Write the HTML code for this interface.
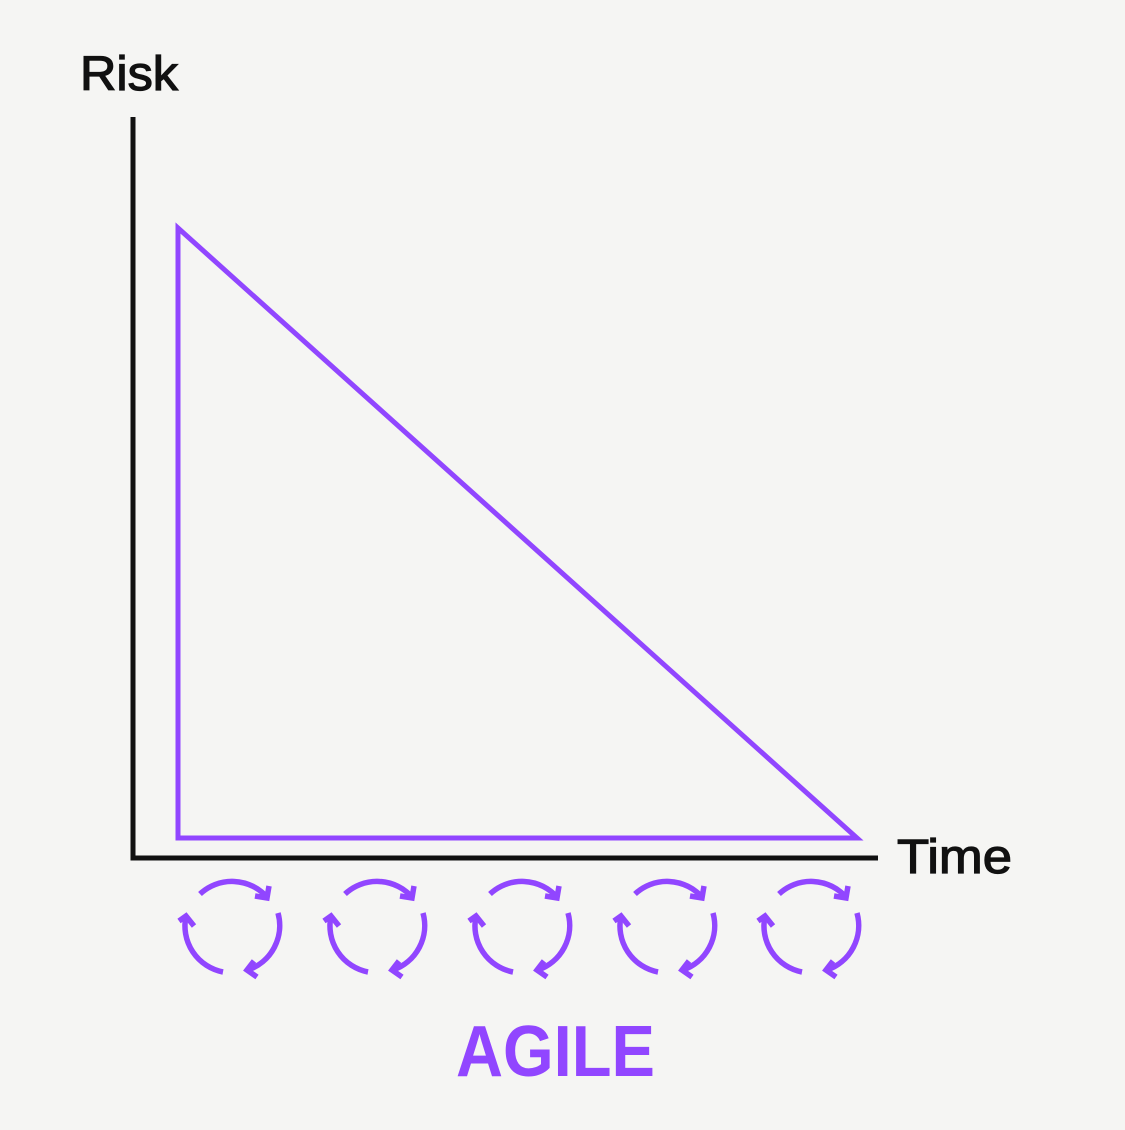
<!DOCTYPE html>
<html><head><style>html,body{margin:0;padding:0;background:#f5f5f3;}</style></head>
<body>
<svg width="1125" height="1125" viewBox="0 0 1125 1125" xmlns="http://www.w3.org/2000/svg">
<rect width="1125" height="1125" fill="#f5f5f3"/>
<text x="80" y="90" font-family="Liberation Sans, sans-serif" font-size="48" fill="#111" stroke="#111" stroke-width="1.2" textLength="98" lengthAdjust="spacingAndGlyphs">Risk</text>
<text x="897" y="873" font-family="Liberation Sans, sans-serif" font-size="48" fill="#111" stroke="#111" stroke-width="1.2" textLength="115" lengthAdjust="spacingAndGlyphs">Time</text>
<path d="M133 117 V858 H878" fill="none" stroke="#111" stroke-width="5"/>
<path d="M178 228 L178 838 L857 838 Z" fill="none" stroke="#9146ff" stroke-width="5" stroke-linejoin="miter"/>
<defs>
<g id="cyc" fill="none" stroke="#9146ff" stroke-width="5.5">
<path d="M-32 -34 A47 47 0 0 1 35 -31"/>
<path d="M23 -32 L35 -30 L37 -42"/>
<path d="M46 -15 A47 47 0 0 1 16 42"/>
<path d="M25 49 L15 42 L22 33"/>
<path d="M-9 44 A47 47 0 0 1 -46 -12"/>
<path d="M-53 -7 L-46 -12 L-38 -2"/>
</g>
</defs>
<use href="#cyc" x="232" y="928"/>
<use href="#cyc" x="377" y="928"/>
<use href="#cyc" x="522" y="928"/>
<use href="#cyc" x="667" y="928"/>
<use href="#cyc" x="811" y="928"/>
<text x="456" y="1076" font-family="Liberation Sans, sans-serif" font-weight="bold" font-size="72" fill="#9146ff" textLength="199" lengthAdjust="spacingAndGlyphs">AGILE</text>
</svg>
</body></html>
